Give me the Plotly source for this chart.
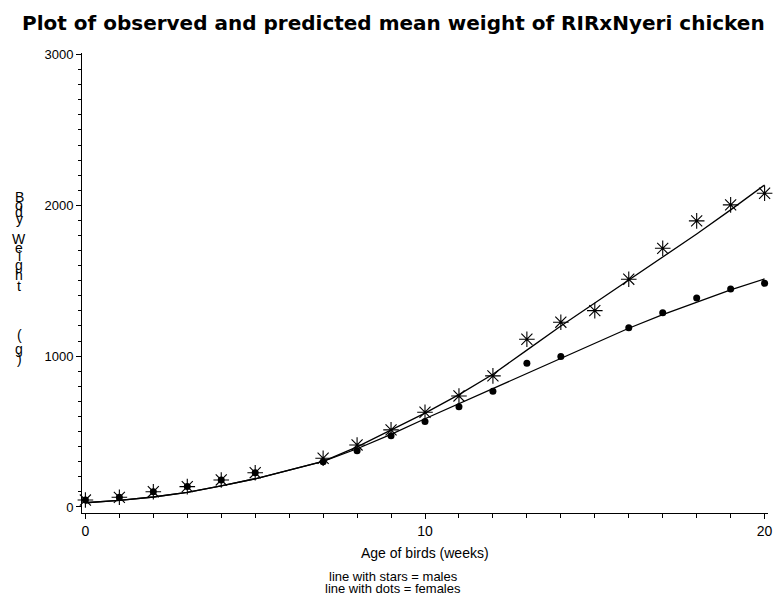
import plotly.graph_objects as go

# ---- data ----
weeks_obs_m = [0, 1, 2, 3, 4, 5, 7, 8, 9, 10, 11, 12, 13, 14, 15, 16, 17, 18, 19, 20]
obs_males = [46, 64, 101, 135, 179, 227, 323, 411, 511, 628, 736, 869, 1112, 1225, 1302, 1510, 1715, 1897, 2003, 2080]

weeks_obs_f = [0, 1, 2, 3, 4, 5, 7, 8, 9, 10, 11, 12, 13, 14, 16, 17, 18, 19, 20]
obs_females = [46, 64, 101, 135, 179, 227, 300, 373, 473, 566, 665, 767, 953, 997, 1189, 1288, 1386, 1446, 1483]

weeks_pred = list(range(0, 21))
pred_males = [28, 44, 66, 97, 140, 187, 245, 302, 398, 510, 622, 745, 880, 1040, 1200, 1352, 1505, 1658, 1810, 1970, 2135]
pred_females = [28, 44, 66, 97, 140, 187, 245, 302, 386, 481, 585, 685, 785, 885, 985, 1085, 1185, 1275, 1360, 1440, 1512]

x_tick_vals = [0, 10, 20]
y_tick_vals = [0, 1000, 2000, 3000]

title_text = "Plot of observed and predicted mean weight of RIRxNyeri chicken"
x_title = "Age of birds (weeks)"
y_title_chars = ["B", "o", "d", "y", "W", "e", "i", "g", "h", "t", "(", "g", ")"]
footnotes = ["line with stars = males", "line with dots = females"]

FONT = "Liberation Sans, Arial, sans-serif"
TITLE_FONT = "DejaVu Sans, Liberation Sans, sans-serif"

# ---- layout geometry (pixels) ----
W, H = 773, 604
L, T = 82, 53
R = W - 768
B = H - 513
plot_w = W - L - R
plot_h = H - T - B


def px_to_paper_x(px):
    return (px - L) / plot_w


def px_to_paper_y(py):
    return (H - B - py) / plot_h


fig = go.Figure()

# predicted lines
fig.add_trace(go.Scatter(x=weeks_pred, y=pred_males, mode="lines",
                         line=dict(color="black", width=1.3), showlegend=False))
fig.add_trace(go.Scatter(x=weeks_pred, y=pred_females, mode="lines",
                         line=dict(color="black", width=1.3), showlegend=False))
# observed
fig.add_trace(go.Scatter(x=weeks_obs_m, y=obs_males, mode="markers", cliponaxis=False,
                         marker=dict(symbol="asterisk-open", size=13,
                                     line=dict(color="black", width=1.1), color="black"),
                         showlegend=False))
fig.add_trace(go.Scatter(x=weeks_obs_f, y=obs_females, mode="markers", cliponaxis=False,
                         marker=dict(symbol="circle", size=7, color="black",
                                     line=dict(width=0)),
                         showlegend=False))

annotations = []
# title
annotations.append(dict(text="<b>" + title_text + "</b>", xref="paper", yref="paper",
                        x=px_to_paper_x(393), y=px_to_paper_y(23), xanchor="center",
                        yanchor="middle", showarrow=False,
                        font=dict(family=TITLE_FONT, size=20, color="black")))
# x axis title
annotations.append(dict(text=x_title, xref="paper", yref="paper",
                        x=px_to_paper_x(425), y=px_to_paper_y(553), xanchor="center",
                        yanchor="middle", showarrow=False,
                        font=dict(family=FONT, size=14, color="black")))
# footnotes
foot_y = [576, 588]
for txt, fy in zip(footnotes, foot_y):
    annotations.append(dict(text=txt, xref="paper", yref="paper",
                            x=px_to_paper_x(393), y=px_to_paper_y(fy), xanchor="center",
                            yanchor="middle", showarrow=False,
                            font=dict(family=FONT, size=13, color="black")))
# stacked y-axis title
char_y = [197, 205, 212, 219, 239, 248, 256, 265, 275, 286, 335, 349, 359]
for ch, cy in zip(y_title_chars, char_y):
    annotations.append(dict(text=ch, xref="paper", yref="paper",
                            x=px_to_paper_x(19), y=px_to_paper_y(cy), xanchor="center",
                            yanchor="middle", showarrow=False,
                            font=dict(family=FONT, size=14, color="black")))

fig.update_layout(
    width=W, height=H,
    margin=dict(l=L, r=R, t=T, b=B, pad=0, autoexpand=False),
    paper_bgcolor="white", plot_bgcolor="white",
    showlegend=False,
    annotations=annotations,
    xaxis=dict(range=[-0.1, 20.1], tickvals=x_tick_vals, ticktext=[str(v) for v in x_tick_vals],
               automargin=False, ticklabeloverflow="allow",
               showgrid=False, zeroline=False, showline=True, linecolor="black", linewidth=1,
               ticks="outside", ticklen=5, tickcolor="black", tickwidth=1,
               minor=dict(dtick=1, tick0=0, ticks="outside", ticklen=4, tickcolor="black",
                          tickwidth=1, showgrid=False),
               tickfont=dict(family=FONT, size=14, color="black")),
    yaxis=dict(range=[-40, 3010], tickvals=y_tick_vals, ticktext=[str(v) for v in y_tick_vals],
               automargin=False,
               showgrid=False, zeroline=False, showline=True, linecolor="black", linewidth=1,
               ticks="outside", ticklen=5, tickcolor="black", tickwidth=1,
               minor=dict(dtick=100, tick0=0, ticks="outside", ticklen=3, tickcolor="black",
                          tickwidth=1, showgrid=False),
               tickfont=dict(family=FONT, size=13, color="black")),
)

# remove the default page margin so the figure fills the window exactly
fig.write_html("out.html",
               config={"displayModeBar": False},
               post_script="document.body.style.margin='0';document.body.style.overflow='hidden';")
